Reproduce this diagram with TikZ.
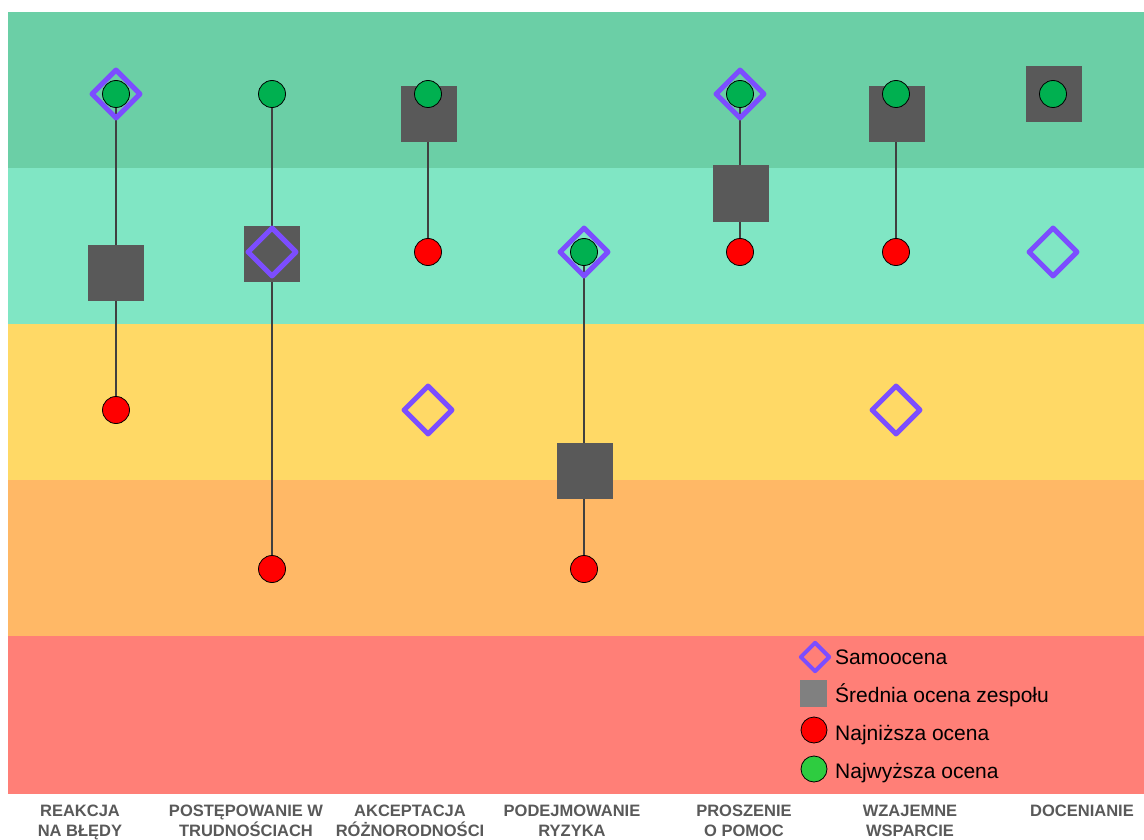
\documentclass[tikz,border=0pt]{standalone}
\usepackage{fontspec}
\setmainfont{Liberation Sans}
\usetikzlibrary{shapes.geometric}
\pgfdeclarelayer{bands}
\pgfdeclarelayer{links}
\pgfsetlayers{bands,links,main}
\definecolor{bandA}{RGB}{107,207,166}
\definecolor{bandB}{RGB}{128,230,196}
\definecolor{bandC}{RGB}{255,217,102}
\definecolor{bandD}{RGB}{255,184,102}
\definecolor{bandE}{RGB}{255,127,119}
\definecolor{selfc}{RGB}{124,77,255}
\definecolor{teamc}{RGB}{89,89,89}
\definecolor{teamkey}{RGB}{128,128,128}
\definecolor{lowc}{RGB}{255,0,0}
\definecolor{highc}{RGB}{0,176,80}
\definecolor{highkey}{RGB}{46,204,64}
\definecolor{spreadc}{RGB}{64,64,64}
\definecolor{catc}{RGB}{89,89,89}

\begin{document}
\begin{tikzpicture}[x=1pt, y=-1pt,
  selfmark/.style={shape=diamond, draw=selfc, line width=5pt, line join=round, minimum size=50pt, inner sep=0pt},
  teambox/.style={rectangle, fill=teamc, minimum size=56pt, inner sep=0pt},
  lowdot/.style={circle, draw=black, line width=0.8pt, fill=lowc, minimum size=27pt, inner sep=0pt},
  highdot/.style={circle, draw=black, line width=0.8pt, fill=highc, minimum size=27pt, inner sep=0pt},
  spread/.style={draw=spreadc, line width=1.2pt},
  catlabel/.style={anchor=north, align=center, inner sep=0pt, text=catc, font=\fontsize{16.5}{20}\selectfont\bfseries},
  legtext/.style={anchor=base west, inner sep=0pt, font=\fontsize{21}{24}\selectfont}]
  \useasboundingbox (0,0) rectangle (1144,840);

  \begin{pgfonlayer}{bands}
    \fill[white] (0,0) rectangle (1144,840);
    \fill[bandA] (8,12) rectangle (1144,168);
    \fill[bandB] (8,168) rectangle (1144,324);
    \fill[bandC] (8,324) rectangle (1144,480);
    \fill[bandD] (8,480) rectangle (1144,636);
    \fill[bandE] (8,636) rectangle (1144,794);
  \end{pgfonlayer}

  \node[teambox] (team1) at (116,272.5) {};
  \node[teambox] (team2) at (272,254) {};
  \node[teambox] (team3) at (429,114) {};
  \node[teambox] (team4) at (584.5,470.5) {};
  \node[teambox] (team5) at (740.5,193.5) {};
  \node[teambox] (team6) at (897,114) {};
  \node[teambox] (team7) at (1053.5,94.5) {};

  \node[selfmark] (self1) at (116,94) {};
  \node[selfmark] (self2) at (272,252) {};
  \node[selfmark] (self3) at (428,410) {};
  \node[selfmark] (self4) at (584,252) {};
  \node[selfmark] (self5) at (740,94) {};
  \node[selfmark] (self6) at (896,410) {};
  \node[selfmark] (self7) at (1053,252) {};

  \node[lowdot] (low1) at (116,410) {};
  \node[lowdot] (low2) at (272,569) {};
  \node[lowdot] (low3) at (428,252) {};
  \node[lowdot] (low4) at (584,569) {};
  \node[lowdot] (low5) at (740,252) {};
  \node[lowdot] (low6) at (896,252) {};

  \node[highdot] (high1) at (116,94) {};
  \node[highdot] (high2) at (272,94) {};
  \node[highdot] (high3) at (428,94) {};
  \node[highdot] (high4) at (584,252) {};
  \node[highdot] (high5) at (740,94) {};
  \node[highdot] (high6) at (896,94) {};
  \node[highdot] (high7) at (1053,94) {};

  \begin{pgfonlayer}{links}
    \draw[spread] (high1) -- (low1);
    \draw[spread] (high2) -- (low2);
    \draw[spread] (high3) -- (low3);
    \draw[spread] (high4) -- (low4);
    \draw[spread] (high5) -- (low5);
    \draw[spread] (high6) -- (low6);
  \end{pgfonlayer}

  \node[catlabel] (cat1) at (80,805) {REAKCJA\\NA BŁĘDY};
  \node[catlabel] (cat2) at (246,805) {POSTĘPOWANIE W\\TRUDNOŚCIACH};
  \node[catlabel] (cat3) at (410,805) {AKCEPTACJA\\RÓŻNORODNOŚCI};
  \node[catlabel] (cat4) at (572,805) {PODEJMOWANIE\\RYZYKA};
  \node[catlabel] (cat5) at (744,805) {PROSZENIE\\O POMOC};
  \node[catlabel] (cat6) at (910,805) {WZAJEMNE\\WSPARCIE};
  \node[catlabel] (cat7) at (1082,805) {DOCENIANIE};

  \node[selfmark, line width=4pt, minimum size=30pt] (keyself) at (815,657) {};
  \node[rectangle, fill=teamkey, minimum size=27pt, inner sep=0pt] (keyteam) at (813.5,693.5) {};
  \node[lowdot, minimum size=26pt] (keylow) at (814,730) {};
  \node[highdot, fill=highkey, minimum size=26pt] (keyhigh) at (814,769) {};
  \node[legtext] (txtself) at (835,664.5) {Samoocena};
  \node[legtext] (txtteam) at (835,702.5) {Średnia ocena zespołu};
  \node[legtext] (txtlow) at (835,740) {Najniższa ocena};
  \node[legtext] (txthigh) at (835,778) {Najwyższa ocena};
\end{tikzpicture}
\end{document}
